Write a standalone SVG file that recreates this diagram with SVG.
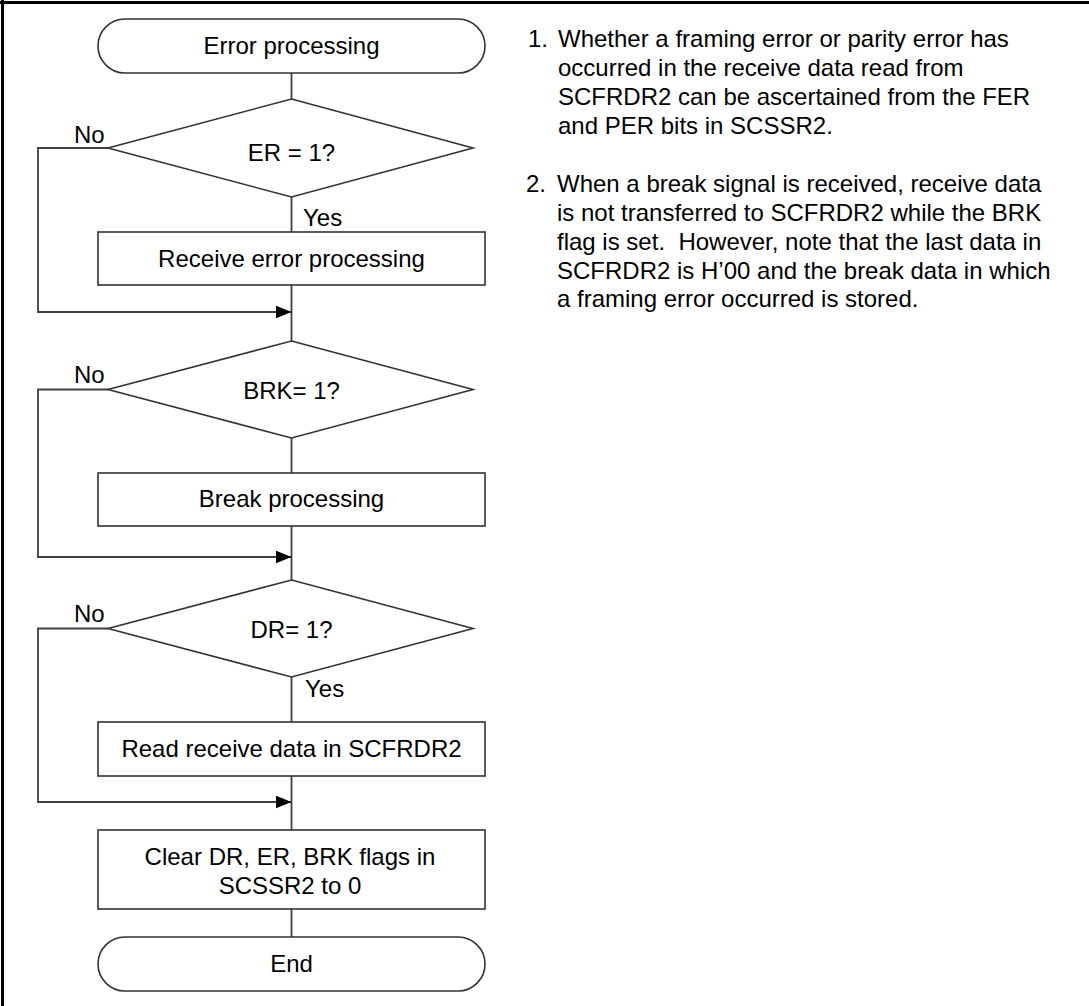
<svg xmlns="http://www.w3.org/2000/svg" width="1089" height="1006" viewBox="0 0 1089 1006">
<style>
.shape{fill:#fff;stroke:#333;stroke-width:1.6}
.conn{fill:none;stroke:#404040;stroke-width:1.8}
.t{font-family:"Liberation Sans",Arial,Helvetica,sans-serif;font-size:24px;fill:#000}
.c{text-anchor:middle}
.pre{white-space:pre}
</style>
<defs>
<marker id="arr" markerUnits="userSpaceOnUse" markerWidth="16" markerHeight="13" refX="16" refY="6.5" orient="auto">
<path d="M0,0 L16,6.5 L0,13 z" fill="#000"/>
</marker>
</defs>
<rect width="1089" height="1006" fill="#fff"/>
<g id="frame">
<line x1="0" y1="2.5" x2="1089" y2="2.5" stroke="#000" stroke-width="3"/>
<line x1="2.5" y1="0" x2="2.5" y2="1006" stroke="#000" stroke-width="3"/>
</g>
<g id="connectors">
<line class="conn" x1="291.5" y1="73" x2="291.5" y2="99"/>
<line class="conn" x1="291.5" y1="197" x2="291.5" y2="232"/>
<line class="conn" x1="291.5" y1="285" x2="291.5" y2="341"/>
<polyline class="conn" points="108,148 38,148 38,312 291.5,312" marker-end="url(#arr)"/>
<line class="conn" x1="291.5" y1="438" x2="291.5" y2="473"/>
<line class="conn" x1="291.5" y1="526" x2="291.5" y2="580"/>
<polyline class="conn" points="108,389.5 38,389.5 38,557 291.5,557" marker-end="url(#arr)"/>
<line class="conn" x1="291.5" y1="677" x2="291.5" y2="722"/>
<line class="conn" x1="291.5" y1="776" x2="291.5" y2="830"/>
<polyline class="conn" points="108,628.5 38,628.5 38,802 291.5,802" marker-end="url(#arr)"/>
<line class="conn" x1="291.5" y1="909" x2="291.5" y2="937"/>
<text class="t" x="74" y="143">No</text>
<text class="t" x="303" y="226">Yes</text>
<text class="t" x="74" y="383">No</text>
<text class="t" x="74" y="622">No</text>
<text class="t" x="305" y="697">Yes</text>
</g>
<g id="start">
<rect class="shape" x="98" y="19" width="387" height="54" rx="27" ry="27"/>
<text class="t c" x="291.5" y="54">Error processing</text>
</g>
<g id="er">
<polygon class="shape" points="291.5,99 473,148 291.5,197 108,148"/>
<text class="t c" x="291.5" y="161">ER = 1?</text>
</g>
<g id="recv-err">
<rect class="shape" x="98" y="232" width="387" height="53"/>
<text class="t c" x="291.5" y="267">Receive error processing</text>
</g>
<g id="brk">
<polygon class="shape" points="291.5,341 473,389.5 291.5,438 108,389.5"/>
<text class="t c" x="291.5" y="399">BRK= 1?</text>
</g>
<g id="break">
<rect class="shape" x="98" y="473" width="387" height="53"/>
<text class="t c" x="291.5" y="507">Break processing</text>
</g>
<g id="dr">
<polygon class="shape" points="291.5,580 473,628.5 291.5,677 108,628.5"/>
<text class="t c" x="291.5" y="638">DR= 1?</text>
</g>
<g id="read">
<rect class="shape" x="98" y="722" width="387" height="54"/>
<text class="t c" x="291.5" y="757">Read receive data in SCFRDR2</text>
</g>
<g id="clear">
<rect class="shape" x="98" y="830" width="387" height="79"/>
<text class="t c" x="290" y="865">Clear DR, ER, BRK flags in</text>
<text class="t c" x="290" y="894">SCSSR2 to 0</text>
</g>
<g id="end">
<rect class="shape" x="98" y="937" width="387" height="54" rx="27" ry="27"/>
<text class="t c" x="291.5" y="972">End</text>
</g>
<g id="notes">
<text class="t" x="528" y="47">1.</text>
<text class="t" x="558" y="47">Whether a framing error or parity error has</text>
<text class="t" x="558" y="76">occurred in the receive data read from</text>
<text class="t" x="558" y="105">SCFRDR2 can be ascertained from the FER</text>
<text class="t" x="558" y="133.5">and PER bits in SCSSR2.</text>
<text class="t" x="526" y="192">2.</text>
<text class="t" x="557" y="192">When a break signal is received, receive data</text>
<text class="t" x="557" y="221">is not transferred to SCFRDR2 while the BRK</text>
<text class="t pre" x="557" y="250">flag is set.  However, note that the last data in</text>
<text class="t" x="557" y="278.5">SCFRDR2 is H’00 and the break data in which</text>
<text class="t" x="557" y="307">a framing error occurred is stored.</text>
</g>
</svg>
